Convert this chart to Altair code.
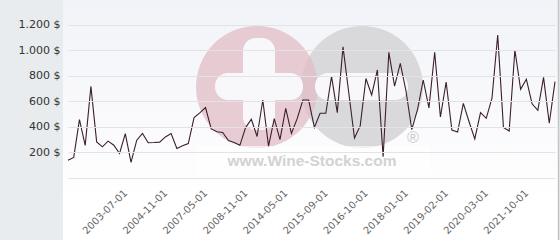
import json
import altair as alt
import pandas as pd

# Prices (one value per auction date, in order)
prices = [140, 161, 458, 255, 718, 283, 244, 289, 257, 192,
          348, 122, 296, 350, 276, 278, 281, 322, 348, 232,
          252, 270, 473, 510, 552, 385, 362, 357, 294, 278,
          256, 395, 460, 325, 611, 250, 465, 300, 546, 350,
          465, 611, 611, 397, 507, 507, 797, 512, 1028, 670,
          313, 408, 780, 651, 847, 167, 985, 720, 899, 680,
          380, 535, 768, 550, 985, 478, 752, 376, 360, 585,
          441, 306, 513, 468, 625, 1121, 397, 368, 1003, 695,
          774, 582, 530, 789, 429, 755]

# Visible category labels and the positions (point index) where they sit
tick_labels = ["2003-07-01", "2004-11-01", "2007-05-01", "2008-11-01",
               "2014-05-01", "2015-09-01", "2016-10-01", "2018-01-01",
               "2019-02-01", "2020-03-01", "2021-10-01"]
tick_index = [10, 17, 24, 31, 38, 45, 52, 59, 66, 73, 80]
y_ticks = [0, 200, 400, 600, 800, 1000, 1200]

df = pd.DataFrame({"i": list(range(len(prices))), "price": prices})

W, H = 487, 178
one = alt.Data(values=[{}])

x_label_expr = (
    json.dumps(tick_labels) + "[indexof(" + json.dumps(tick_index) + ", datum.value)]"
)
y_label_expr = "datum.value == 0 ? '' : replace(format(datum.value, ','), ',', '.') + ' $'"

x_enc = alt.X(
    "i:Q",
    scale=alt.Scale(domain=[0, len(prices) - 1], nice=False, zero=False),
    axis=alt.Axis(values=tick_index, labelExpr=x_label_expr, title=None,
                  grid=False, domain=False, ticks=False, labelAngle=-45,
                  labelAlign="right", labelBaseline="middle", labelPadding=13,
                  labelFontSize=10, labelColor="#666666", labelFont="DejaVu Sans",
                  labelOverlap=False, labelFlush=False, zindex=1),
)
y_enc = alt.Y(
    "price:Q",
    scale=alt.Scale(domain=[0, 1395], nice=False),
    axis=alt.Axis(values=y_ticks, labelExpr=y_label_expr, title=None,
                  grid=True, gridColor="#e3e3e6", domain=False, ticks=False,
                  labelPadding=8, labelFontSize=11, labelColor="#333333",
                  labelFont="DejaVu Sans", zindex=1),
)

bg = alt.Chart(one).mark_rect(
    color=alt.Gradient(gradient="linear", x1=0, y1=0, x2=0, y2=1,
                       stops=[alt.GradientStop(color="#f2f3f8", offset=0),
                              alt.GradientStop(color="#ffffff", offset=0.85)])
).encode(x=alt.value(-5), x2=alt.value(490), y=alt.value(0), y2=alt.value(240))

border = alt.Chart(one).mark_rule(color="#c4c4c4", strokeWidth=1.5).encode(
    x=alt.value(490.5), y=alt.value(0), y2=alt.value(240))

gray_circle = alt.Chart(one).mark_point(
    shape="circle", filled=True, size=14884, color="#d9d9db", opacity=1
).encode(x=alt.value(294), y=alt.value(87))
pink_circle = alt.Chart(one).mark_point(
    shape="circle", filled=True, size=14884, color="#e2bcc6", opacity=0.75
).encode(x=alt.value(189), y=alt.value(87))

bar_style = dict(color="#f8f8fb", cornerRadius=13)
plus_v = alt.Chart(one).mark_rect(**bar_style).encode(
    x=alt.value(175), x2=alt.value(207), y=alt.value(38), y2=alt.value(130))
plus_h = alt.Chart(one).mark_rect(**bar_style).encode(
    x=alt.value(147), x2=alt.value(235), y=alt.value(73), y2=alt.value(100))
minus = alt.Chart(one).mark_rect(**bar_style).encode(
    x=alt.value(247), x2=alt.value(340), y=alt.value(73), y2=alt.value(100))

text_box = alt.Chart(one).mark_rect(color="#ffffff", opacity=0.6).encode(
    x=alt.value(129), x2=alt.value(362), y=alt.value(146), y2=alt.value(176))
wm_text = alt.Chart(one).mark_text(
    text="www.Wine-Stocks.com", font="Liberation Sans", fontWeight="bold",
    fontSize=15.5, color="#d2d2d4", align="center", baseline="middle"
).encode(x=alt.value(244), y=alt.value(161))
reg = alt.Chart(one).mark_text(
    text="®", font="Liberation Sans", fontSize=16, color="#c9c9cb",
    align="center", baseline="middle"
).encode(x=alt.value(345), y=alt.value(138))

line = alt.Chart(df).mark_line(color="#3c1e2d", strokeWidth=1.1).encode(
    x=x_enc, y=y_enc)

chart = alt.layer(
    bg, border, gray_circle, pink_circle, plus_v, plus_h, minus,
    text_box, wm_text, reg, line
).properties(
    width=W, height=H,
    autosize=alt.AutoSizeParams(type="none"),
    padding={"left": 68, "top": 0, "right": 5, "bottom": 62},
    background="#e8ecef",
).configure_view(stroke=None)

chart.save("out.html", embed_options={"renderer": "svg", "actions": False})
